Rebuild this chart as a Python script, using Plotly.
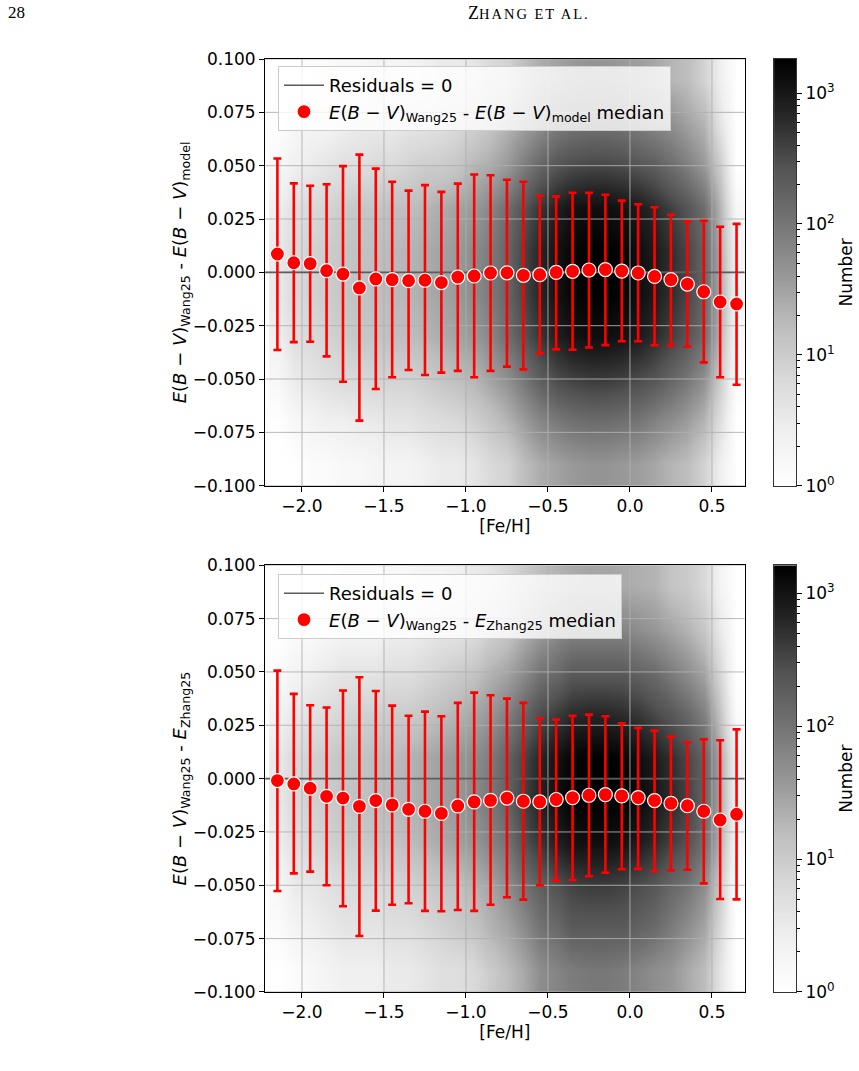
import numpy as np
import plotly.graph_objects as go

# ---------------- data ----------------
FEH = [-2.15, -2.05, -1.95, -1.85, -1.75, -1.65, -1.55, -1.45, -1.35, -1.25,
       -1.15, -1.05, -0.95, -0.85, -0.75, -0.65, -0.55, -0.45, -0.35, -0.25,
       -0.15, -0.05, 0.05, 0.15, 0.25, 0.35, 0.45, 0.55, 0.65]

TOP_MED = [0.0086, 0.0045, 0.0041, 0.0008, -0.0008, -0.0073, -0.0031, -0.0034, -0.0039, -0.0037,
           -0.0048, -0.0022, -0.0017, -0.0003, -0.0002, -0.0014, -0.0011, 0.0000, 0.0005, 0.0011,
           0.0013, 0.0006, -0.0003, -0.0019, -0.0034, -0.0055, -0.0091, -0.0139, -0.0148]
TOP_HI = [0.0534, 0.0417, 0.0406, 0.0413, 0.0498, 0.0552, 0.0486, 0.0425, 0.0383, 0.0409,
          0.0377, 0.0416, 0.0459, 0.0455, 0.0434, 0.0425, 0.0359, 0.0356, 0.0373, 0.0373,
          0.0364, 0.0336, 0.0319, 0.0305, 0.0270, 0.0239, 0.0242, 0.0214, 0.0227]
TOP_LO = [-0.0364, -0.0327, -0.0325, -0.0394, -0.0513, -0.0695, -0.0547, -0.0492, -0.0458, -0.0481,
          -0.0470, -0.0462, -0.0492, -0.0462, -0.0442, -0.0455, -0.0381, -0.0361, -0.0363, -0.0352,
          -0.0341, -0.0323, -0.0323, -0.0342, -0.0344, -0.0348, -0.0422, -0.0492, -0.0527]

BOT_MED = [-0.0009, -0.0025, -0.0045, -0.0083, -0.0091, -0.0130, -0.0103, -0.0123, -0.0144, -0.0153,
           -0.0163, -0.0128, -0.0109, -0.0102, -0.0091, -0.0106, -0.0109, -0.0098, -0.0089, -0.0078,
           -0.0075, -0.0081, -0.0089, -0.0103, -0.0116, -0.0127, -0.0153, -0.0194, -0.0167]
BOT_HI = [0.0506, 0.0397, 0.0344, 0.0333, 0.0413, 0.0475, 0.0411, 0.0342, 0.0295, 0.0314,
          0.0292, 0.0355, 0.0403, 0.0391, 0.0375, 0.0355, 0.0283, 0.0277, 0.0295, 0.0300,
          0.0292, 0.0259, 0.0238, 0.0225, 0.0197, 0.0170, 0.0184, 0.0180, 0.0231]
BOT_LO = [-0.0527, -0.0444, -0.0436, -0.0500, -0.0598, -0.0738, -0.0619, -0.0591, -0.0584, -0.0620,
          -0.0622, -0.0616, -0.0620, -0.0591, -0.0556, -0.0567, -0.0500, -0.0478, -0.0475, -0.0458,
          -0.0441, -0.0425, -0.0423, -0.0434, -0.0430, -0.0427, -0.0491, -0.0564, -0.0566]

# 2D histogram background: log10(number) per cell, estimated by eye (rows bottom -> top)
HIST_Y = [-0.09, -0.07, -0.05, -0.03, -0.01, 0.01, 0.03, 0.05, 0.07, 0.09]
HIST_TOP = [
    [0.0, 0.0, 0.1, 0.1, 0.2, 0.2, 0.3, 0.3, 0.3, 0.4, 0.5, 0.5, 0.6, 0.8, 0.9, 1.2, 1.4, 1.5, 1.6, 1.65, 1.65, 1.6, 1.55, 1.45, 1.3, 1.2, 0.9, 0.4, 0.0],
    [0.0, 0.2, 0.3, 0.4, 0.4, 0.5, 0.5, 0.6, 0.6, 0.7, 0.75, 0.8, 0.95, 1.1, 1.3, 1.55, 1.8, 1.95, 2.05, 2.1, 2.1, 2.05, 2.0, 1.85, 1.7, 1.55, 1.3, 0.7, 0.0],
    [0.2, 0.5, 0.6, 0.7, 0.8, 0.8, 0.9, 0.9, 0.9, 1.0, 1.1, 1.2, 1.3, 1.5, 1.7, 2.0, 2.3, 2.5, 2.6, 2.65, 2.65, 2.6, 2.5, 2.4, 2.2, 2.0, 1.7, 1.0, 0.1],
    [0.4, 0.7, 0.8, 0.9, 1.0, 1.1, 1.1, 1.2, 1.2, 1.3, 1.4, 1.5, 1.6, 1.8, 2.1, 2.4, 2.7, 2.9, 3.05, 3.1, 3.1, 3.05, 2.95, 2.8, 2.6, 2.4, 2.1, 1.3, 0.2],
    [0.5, 0.8, 0.9, 1.0, 1.1, 1.15, 1.2, 1.25, 1.3, 1.4, 1.5, 1.6, 1.75, 1.95, 2.2, 2.55, 2.85, 3.05, 3.2, 3.25, 3.25, 3.2, 3.1, 2.95, 2.75, 2.55, 2.2, 1.4, 0.3],
    [0.5, 0.8, 0.9, 1.0, 1.1, 1.15, 1.2, 1.25, 1.3, 1.4, 1.5, 1.6, 1.75, 1.95, 2.2, 2.55, 2.85, 3.05, 3.2, 3.25, 3.25, 3.2, 3.1, 2.95, 2.75, 2.55, 2.2, 1.4, 0.3],
    [0.4, 0.7, 0.8, 0.9, 1.0, 1.1, 1.1, 1.2, 1.2, 1.3, 1.4, 1.5, 1.6, 1.8, 2.1, 2.4, 2.7, 2.9, 3.05, 3.1, 3.1, 3.05, 2.95, 2.8, 2.6, 2.4, 2.1, 1.3, 0.2],
    [0.2, 0.4, 0.5, 0.6, 0.7, 0.7, 0.8, 0.8, 0.9, 1.0, 1.0, 1.1, 1.3, 1.4, 1.6, 1.9, 2.2, 2.4, 2.5, 2.55, 2.55, 2.5, 2.4, 2.3, 2.1, 1.9, 1.6, 1.0, 0.0],
    [0.0, 0.2, 0.3, 0.3, 0.4, 0.5, 0.5, 0.5, 0.6, 0.6, 0.7, 0.8, 0.9, 1.1, 1.3, 1.5, 1.7, 1.9, 2.0, 2.05, 2.05, 2.0, 1.9, 1.8, 1.7, 1.5, 1.3, 0.6, 0.0],
    [0.0, 0.0, 0.1, 0.1, 0.2, 0.2, 0.3, 0.3, 0.3, 0.4, 0.5, 0.5, 0.6, 0.8, 0.9, 1.2, 1.4, 1.5, 1.6, 1.65, 1.65, 1.6, 1.55, 1.45, 1.3, 1.2, 0.9, 0.4, 0.0],
]
HIST_BOT = [
    [0.0, 0.1, 0.2, 0.3, 0.4, 0.4, 0.4, 0.5, 0.5, 0.6, 0.7, 0.7, 0.8, 1.0, 1.2, 1.4, 1.7, 1.8, 1.9, 1.95, 1.95, 1.9, 1.8, 1.7, 1.6, 1.4, 1.2, 0.6, 0.0],
    [0.1, 0.3, 0.4, 0.5, 0.6, 0.6, 0.6, 0.7, 0.7, 0.8, 0.9, 1.0, 1.1, 1.3, 1.45, 1.7, 2.0, 2.1, 2.3, 2.3, 2.3, 2.3, 2.2, 2.1, 1.9, 1.7, 1.45, 0.8, 0.0],
    [0.2, 0.5, 0.55, 0.65, 0.75, 0.8, 0.8, 0.85, 0.9, 1.0, 1.1, 1.15, 1.3, 1.45, 1.7, 2.0, 2.25, 2.4, 2.55, 2.6, 2.6, 2.55, 2.45, 2.35, 2.15, 2.0, 1.7, 1.0, 0.0],
    [0.4, 0.7, 0.8, 0.9, 1.0, 1.0, 1.1, 1.1, 1.2, 1.3, 1.4, 1.5, 1.6, 1.8, 2.0, 2.4, 2.65, 2.85, 3.0, 3.05, 3.05, 3.0, 2.9, 2.75, 2.55, 2.4, 2.05, 1.3, 0.2],
    [0.5, 0.8, 0.9, 1.0, 1.1, 1.15, 1.2, 1.25, 1.3, 1.4, 1.5, 1.6, 1.75, 1.95, 2.2, 2.55, 2.85, 3.05, 3.2, 3.2, 3.2, 3.2, 3.1, 2.95, 2.75, 2.55, 2.2, 1.4, 0.3],
    [0.5, 0.8, 0.9, 1.0, 1.1, 1.1, 1.2, 1.2, 1.3, 1.4, 1.5, 1.6, 1.7, 1.9, 2.2, 2.5, 2.8, 3.0, 3.15, 3.2, 3.2, 3.15, 3.05, 2.9, 2.7, 2.5, 2.2, 1.4, 0.3],
    [0.3, 0.55, 0.65, 0.75, 0.85, 0.9, 0.95, 1.0, 1.0, 1.1, 1.2, 1.3, 1.45, 1.6, 1.85, 2.15, 2.45, 2.6, 2.75, 2.8, 2.8, 2.75, 2.65, 2.5, 2.35, 2.15, 1.85, 1.1, 0.1],
    [0.1, 0.3, 0.4, 0.5, 0.6, 0.6, 0.6, 0.7, 0.7, 0.8, 0.9, 1.0, 1.1, 1.3, 1.45, 1.7, 2.0, 2.1, 2.3, 2.3, 2.3, 2.3, 2.2, 2.1, 1.9, 1.7, 1.45, 0.8, 0.0],
    [0.0, 0.1, 0.1, 0.2, 0.3, 0.3, 0.3, 0.4, 0.4, 0.5, 0.6, 0.6, 0.7, 0.9, 1.05, 1.3, 1.5, 1.7, 1.8, 1.8, 1.8, 1.8, 1.7, 1.6, 1.45, 1.3, 1.05, 0.5, 0.0],
    [0.0, 0.0, 0.0, 0.0, 0.1, 0.1, 0.1, 0.2, 0.2, 0.3, 0.3, 0.4, 0.5, 0.6, 0.8, 1.0, 1.2, 1.3, 1.4, 1.45, 1.45, 1.4, 1.35, 1.3, 1.1, 1.0, 0.8, 0.3, 0.0],
]
CB_MAX_TOP = 3.26   # log10 of largest bin count
CB_MAX_BOT = 3.21

X_TICKS = [-2.0, -1.5, -1.0, -0.5, 0.0, 0.5]
Y_TICKS = [-0.1, -0.075, -0.05, -0.025, 0.0, 0.025, 0.05, 0.075, 0.1]
CB_TICKS = [1, 10, 100, 1000]
CB_TEXT = ["10<sup>0</sup>", "10<sup>1</sup>", "10<sup>2</sup>", "10<sup>3</sup>"]
X_RANGE = [-2.225, 0.70]
Y_RANGE = [-0.1, 0.1]

EBV = "<i>E</i>(<i>B</i> \u2212 <i>V</i>)"
YTITLE_TOP = EBV + "<sub>Wang25</sub> - " + EBV + "<sub>model</sub>"
YTITLE_BOT = EBV + "<sub>Wang25</sub> - <i>E</i><sub>Zhang25</sub>"
LEG_TOP = YTITLE_TOP + " median"
LEG_BOT = YTITLE_BOT + " median"

# ---------------- style ----------------
FONT = "DejaVu Sans"
FS = 17
GREYS = [[0.0, "#ffffff"], [0.125, "#f0f0f0"], [0.25, "#d9d9d9"], [0.375, "#bdbdbd"],
         [0.5, "#969696"], [0.625, "#737373"], [0.75, "#525252"], [0.875, "#252525"],
         [1.0, "#000000"]]
XD = [0.3086, 0.8670]
YD_TOP = [0.5465, 0.9449]
YD_BOT = [0.0738, 0.4722]
CBX = [0.9011, 0.9267]

fig = go.Figure()


def add_panel(xa, ya, hist, cbmax, med, hi, lo, leg_name, legend_id):
    fig.add_trace(go.Heatmap(x=FEH, y=HIST_Y, z=hist, zmin=0, zmax=cbmax, colorscale=GREYS,
                             showscale=False, zsmooth="best", hoverinfo="skip",
                             xaxis=xa, yaxis=ya))
    # grid lines drawn above the histogram
    gx, gy = [], []
    for t in X_TICKS:
        gx += [t, t, None]
        gy += [Y_RANGE[0], Y_RANGE[1], None]
    for t in Y_TICKS:
        gx += [X_RANGE[0], X_RANGE[1], None]
        gy += [t, t, None]
    fig.add_trace(go.Scatter(x=gx, y=gy, mode="lines", line=dict(color="#b0b0b0", width=0.9),
                             hoverinfo="skip", showlegend=False, xaxis=xa, yaxis=ya))
    fig.add_trace(go.Scatter(x=X_RANGE, y=[0, 0], mode="lines", name="Residuals = 0",
                             line=dict(color="#5c5c5c", width=1.6), legend=legend_id,
                             xaxis=xa, yaxis=ya))
    med = np.array(med)
    fig.add_trace(go.Scatter(
        x=FEH, y=med, mode="markers", name=leg_name, legend=legend_id,
        marker=dict(color="#ff0000", size=14, line=dict(color="white", width=1.2)),
        error_y=dict(type="data", symmetric=False, array=np.array(hi) - med,
                     arrayminus=med - np.array(lo), color="#ff0000", thickness=2.6, width=4),
        xaxis=xa, yaxis=ya))


def add_cbar(xa, ya, cbmax):
    edges = np.linspace(0, cbmax, 257)
    mids = (edges[:-1] + edges[1:]) / 2
    fig.add_trace(go.Heatmap(x=[0, 1], y=10 ** edges, z=[[v] for v in mids], zmin=0, zmax=cbmax,
                             colorscale=GREYS, showscale=False, hoverinfo="skip",
                             xaxis=xa, yaxis=ya))


add_panel("x", "y", HIST_TOP, CB_MAX_TOP, TOP_MED, TOP_HI, TOP_LO, LEG_TOP, "legend")
add_panel("x2", "y2", HIST_BOT, CB_MAX_BOT, BOT_MED, BOT_HI, BOT_LO, LEG_BOT, "legend2")
add_cbar("x3", "y3", CB_MAX_TOP)
add_cbar("x4", "y4", CB_MAX_BOT)

tick_common = dict(ticks="outside", ticklen=5, tickwidth=1, tickcolor="black", automargin=False,
                   showline=True, linecolor="black", linewidth=1, mirror=True,
                   showgrid=False, zeroline=False, tickfont=dict(family=FONT, size=FS, color="black"))

xax = dict(range=X_RANGE, domain=XD, tickvals=X_TICKS, tickformat=".1f",
           title=dict(text="[Fe/H]", font=dict(family=FONT, size=FS, color="black"), standoff=2),
           **tick_common)
yax = dict(range=Y_RANGE, domain=YD_TOP, tickvals=Y_TICKS, tickformat=".3f", **tick_common)

cbx = dict(range=[0, 1], domain=CBX, showticklabels=False, ticks="", showgrid=False, automargin=False,
           zeroline=False, showline=True, linecolor="#333333", linewidth=1, mirror=True)
cby = dict(type="log", side="right", tickvals=CB_TICKS, ticktext=CB_TEXT, ticks="outside",
           ticklen=5, tickwidth=1, tickcolor="black", showline=True, linecolor="#333333",
           linewidth=1, mirror=True, showgrid=False, zeroline=False, automargin=False,
           tickfont=dict(family=FONT, size=FS, color="black"),
           minor=dict(ticks="outside", ticklen=3, tickcolor="black", dtick="D1", showgrid=False),
           title=dict(text="Number", font=dict(family=FONT, size=FS, color="black"), standoff=6))

YT_FONT = dict(family=FONT, size=18, color="black")

fig.update_layout(
    width=859, height=1071, autosize=False,
    margin=dict(l=0, r=0, t=0, b=0, autoexpand=False),
    paper_bgcolor="white", plot_bgcolor="white",
    font=dict(family=FONT, size=FS, color="black"),
    xaxis=dict(anchor="y", **xax),
    yaxis=dict(anchor="x", title=dict(text=YTITLE_TOP, font=YT_FONT, standoff=0), **yax),
    xaxis2=dict(anchor="y2", **xax),
    yaxis2=dict(anchor="x2", title=dict(text=YTITLE_BOT, font=YT_FONT, standoff=0),
                **{**yax, "domain": YD_BOT}),
    xaxis3=dict(anchor="y3", **cbx),
    yaxis3=dict(anchor="x3", domain=YD_TOP, range=[0, CB_MAX_TOP], **cby),
    xaxis4=dict(anchor="y4", **cbx),
    yaxis4=dict(anchor="x4", domain=YD_BOT, range=[0, CB_MAX_BOT], **cby),
    legend=dict(x=278 / 859, y=1 - 66 / 1071, xanchor="left", yanchor="top", itemwidth=40,
                bgcolor="rgba(255,255,255,0.8)", bordercolor="#cccccc", borderwidth=1,
                font=dict(family=FONT, size=18, color="black")),
    legend2=dict(x=278 / 859, y=1 - 574 / 1071, xanchor="left", yanchor="top", itemwidth=40,
                 bgcolor="rgba(255,255,255,0.8)", bordercolor="#cccccc", borderwidth=1,
                 font=dict(family=FONT, size=18, color="black")),
    annotations=[
        dict(text="28", x=6 / 859, y=1 - 13 / 1071, xref="paper", yref="paper",
             xanchor="left", yanchor="middle", showarrow=False,
             font=dict(family="Liberation Serif", size=17, color="black")),
        dict(text="Z<span style='font-size:14.5px;letter-spacing:2px'>HANG ET AL.</span>",
             x=466 / 859, y=1 - 13 / 1071,
             xref="paper", yref="paper", xanchor="left", yanchor="middle", showarrow=False,
             font=dict(family="Liberation Serif", size=18, color="black")),
    ],
)

fig.write_html("out.html")
